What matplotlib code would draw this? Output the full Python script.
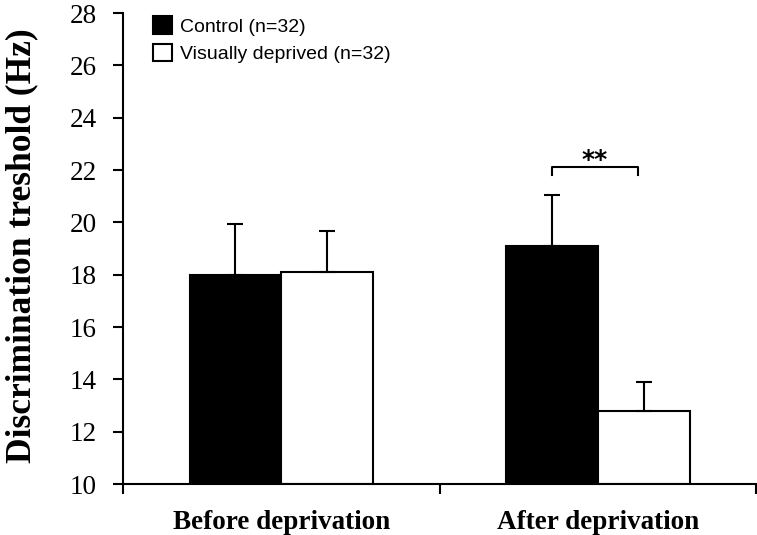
import matplotlib.pyplot as plt
import numpy as np

conditions = ["Before deprivation", "After deprivation"]
groups = ["Control (n=32)", "Visually deprived (n=32)"]
control_mean = [18.0, 19.1]
control_err = [1.95, 1.95]
deprived_mean = [18.1, 12.8]
deprived_err = [1.55, 1.1]

plt.rcParams["font.family"] = "Liberation Serif"

fig = plt.figure(figsize=(7.57, 5.35), dpi=100)
ax = fig.add_axes([0.1625, 0.0953, 0.8365, 0.8804])

x = np.arange(len(conditions)) + 0.5
w = 0.29
base = 10

ax.bar(x - w / 2, np.array(control_mean) - base, w, bottom=base,
       color="black", edgecolor="black", linewidth=1.5, label=groups[0])
ax.bar(x + w / 2, np.array(deprived_mean) - base, w, bottom=base,
       color="white", edgecolor="black", linewidth=1.5, label=groups[1])

# upper error bars only
ax.errorbar(x - w / 2, control_mean, yerr=[[0, 0], control_err], fmt="none",
            ecolor="black", elinewidth=1.5, capsize=6, capthick=1.5)
ax.errorbar(x + w / 2, deprived_mean, yerr=[[0, 0], deprived_err], fmt="none",
            ecolor="black", elinewidth=1.5, capsize=6, capthick=1.5)

# significance bracket
bx0, bx1 = x[1] - w / 2, x[1] + w / 2 - 0.02
ax.plot([bx0, bx0, bx1, bx1], [21.8, 22.1, 22.1, 21.8], color="black", lw=1.5)
ax.text((bx0 + bx1) / 2, 22.4, "**", ha="center", va="center",
        fontsize=18, fontweight="bold", family="DejaVu Sans")

ax.set_xlim(0, 2)
ax.set_ylim(10, 28)
ax.set_yticks(np.arange(10, 29, 2))
ax.set_xticks([0, 1, 2])
ax.set_xticklabels([])
ax.set_xticks(x, minor=True)
ax.set_xticklabels(conditions, minor=True, fontsize=19.5, fontweight="bold")
ax.tick_params(axis="x", which="minor", length=0, pad=19)
ax.tick_params(axis="x", which="major", length=7, width=1.5, direction="out")
ax.tick_params(axis="y", length=7, width=1.5, labelsize=19.5, pad=12)

for side in ["top", "right"]:
    ax.spines[side].set_visible(False)
ax.spines["left"].set_linewidth(1.5)
ax.spines["bottom"].set_linewidth(1.5)
ax.spines["bottom"].set_clip_on(False)

ax.set_ylabel("Discrimination treshold (Hz)", fontsize=25.5, fontweight="bold")
ax.yaxis.set_label_coords(-0.134, 0.505)

ax.legend(loc="upper left", bbox_to_anchor=(0.019, 1.03), frameon=False,
          prop={"family": "Liberation Sans", "size": 14}, handlelength=1.0,
          handleheight=1.0, handletextpad=0.4, labelspacing=0.4)

fig.savefig("out.png", dpi=100)
